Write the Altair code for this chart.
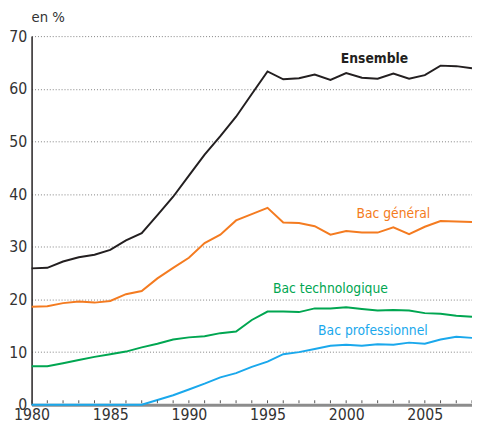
import altair as alt
import pandas as pd

years = list(range(1980, 2009))
ensemble = [25.9, 26.0, 27.2, 28.0, 28.5, 29.4, 31.2, 32.6, 36.0, 39.5, 43.5, 47.5, 51.0, 54.7,
            59.0, 63.3, 61.8, 62.0, 62.7, 61.7, 63.0, 62.1, 61.9, 62.9, 61.9, 62.6, 64.4, 64.3, 63.9]
general = [18.6, 18.7, 19.3, 19.6, 19.4, 19.7, 21.0, 21.6, 24.0, 26.0, 27.9, 30.7, 32.3, 35.0,
           36.2, 37.4, 34.6, 34.5, 33.9, 32.3, 33.0, 32.7, 32.7, 33.7, 32.4, 33.8, 34.9, 34.8, 34.7]
techno = [7.3, 7.3, 7.9, 8.5, 9.1, 9.6, 10.1, 10.9, 11.6, 12.4, 12.8, 13.0, 13.6, 13.9,
          16.1, 17.7, 17.7, 17.6, 18.3, 18.3, 18.5, 18.2, 17.9, 18.0, 17.9, 17.4, 17.3, 16.9, 16.7]
pro = [0, 0, 0, 0, 0, 0, 0, 0, 0.9, 1.8, 2.9, 4.0, 5.2, 6.0,
       7.2, 8.2, 9.6, 10.0, 10.6, 11.2, 11.4, 11.2, 11.5, 11.4, 11.8, 11.6, 12.4, 12.9, 12.7]

series_names = ["Ensemble", "Bac général", "Bac technologique", "Bac professionnel"]
series_colors = ["#231f20", "#f47b20", "#00a651", "#1aa8ec"]

label_years = [2001.8, 2003.0, 1999.0, 2001.7]
label_values = [65.6, 36.3, 22.0, 14.0]
label_bold = [True, False, False, False]
x_tick_labels = [1980, 1985, 1990, 1995, 2000, 2005]
y_ticks = [0, 10, 20, 30, 40, 50, 60, 70]

rows = []
for name, vals in zip(series_names, [ensemble, general, techno, pro]):
    for y, v in zip(years, vals):
        rows.append({"annee": y, "valeur": v, "serie": name})
df = pd.DataFrame(rows)
labels = pd.DataFrame({"serie": series_names, "annee": label_years, "valeur": label_values,
                       "gras": label_bold})
ticks = pd.DataFrame({"annee": years})

FONT = "DejaVu Sans Condensed, Roboto, sans-serif"

xscale = alt.Scale(domain=[1980, 2008], nice=False, zero=False)
yscale = alt.Scale(domain=[0, 70], nice=False)
cscale = alt.Scale(domain=series_names, range=series_colors)

lines = alt.Chart(df).mark_line(strokeWidth=2).encode(
    x=alt.X("annee:Q", scale=xscale,
            axis=alt.Axis(values=x_tick_labels, format="d", title=None, ticks=False,
                          labelFlush=False, labelFontSize=16, labelFont=FONT,
                          labelColor="#333333", labelPadding=2,
                          domainColor="#8c8c8c", domainWidth=3, grid=False)),
    y=alt.Y("valeur:Q", scale=yscale,
            axis=alt.Axis(values=y_ticks, title=None, ticks=False, labelFontSize=16,
                          labelFont=FONT, labelColor="#333333", labelPadding=5,
                          domainColor="#231f20", domainWidth=1.5,
                          gridColor="#808080", gridDash=[1, 2], gridWidth=1)),
    color=alt.Color("serie:N", scale=cscale, legend=None),
    order=alt.Order("annee:Q"),
)

tickmarks = alt.Chart(ticks).mark_rule(color="#555555", strokeWidth=1).encode(
    x=alt.X("annee:Q", scale=xscale),
    y=alt.datum(0.3),
    y2=alt.datum(0.85),
)

text_base = alt.Chart(labels).encode(
    x=alt.X("annee:Q", scale=xscale),
    y=alt.Y("valeur:Q", scale=yscale),
    text="serie:N",
    color=alt.Color("serie:N", scale=cscale, legend=None),
)
text_bold = text_base.mark_text(fontSize=14, font=FONT, fontWeight="bold").transform_filter(
    alt.datum.gras == True)
text_norm = text_base.mark_text(fontSize=14, font=FONT).transform_filter(
    alt.datum.gras == False)

chart = alt.layer(lines, tickmarks, text_bold, text_norm).properties(
    width=448,
    height=375,
    title=alt.TitleParams("en %", anchor="start", frame="group", fontSize=15,
                          fontWeight="normal", font=FONT, color="#333333", offset=3),
    autosize=alt.AutoSizeParams(type="none"),
    padding={"left": 24, "top": 25, "right": 0, "bottom": 19},
).configure_view(stroke=None)

chart.save("out.html", embed_options={"renderer": "svg", "actions": False})
